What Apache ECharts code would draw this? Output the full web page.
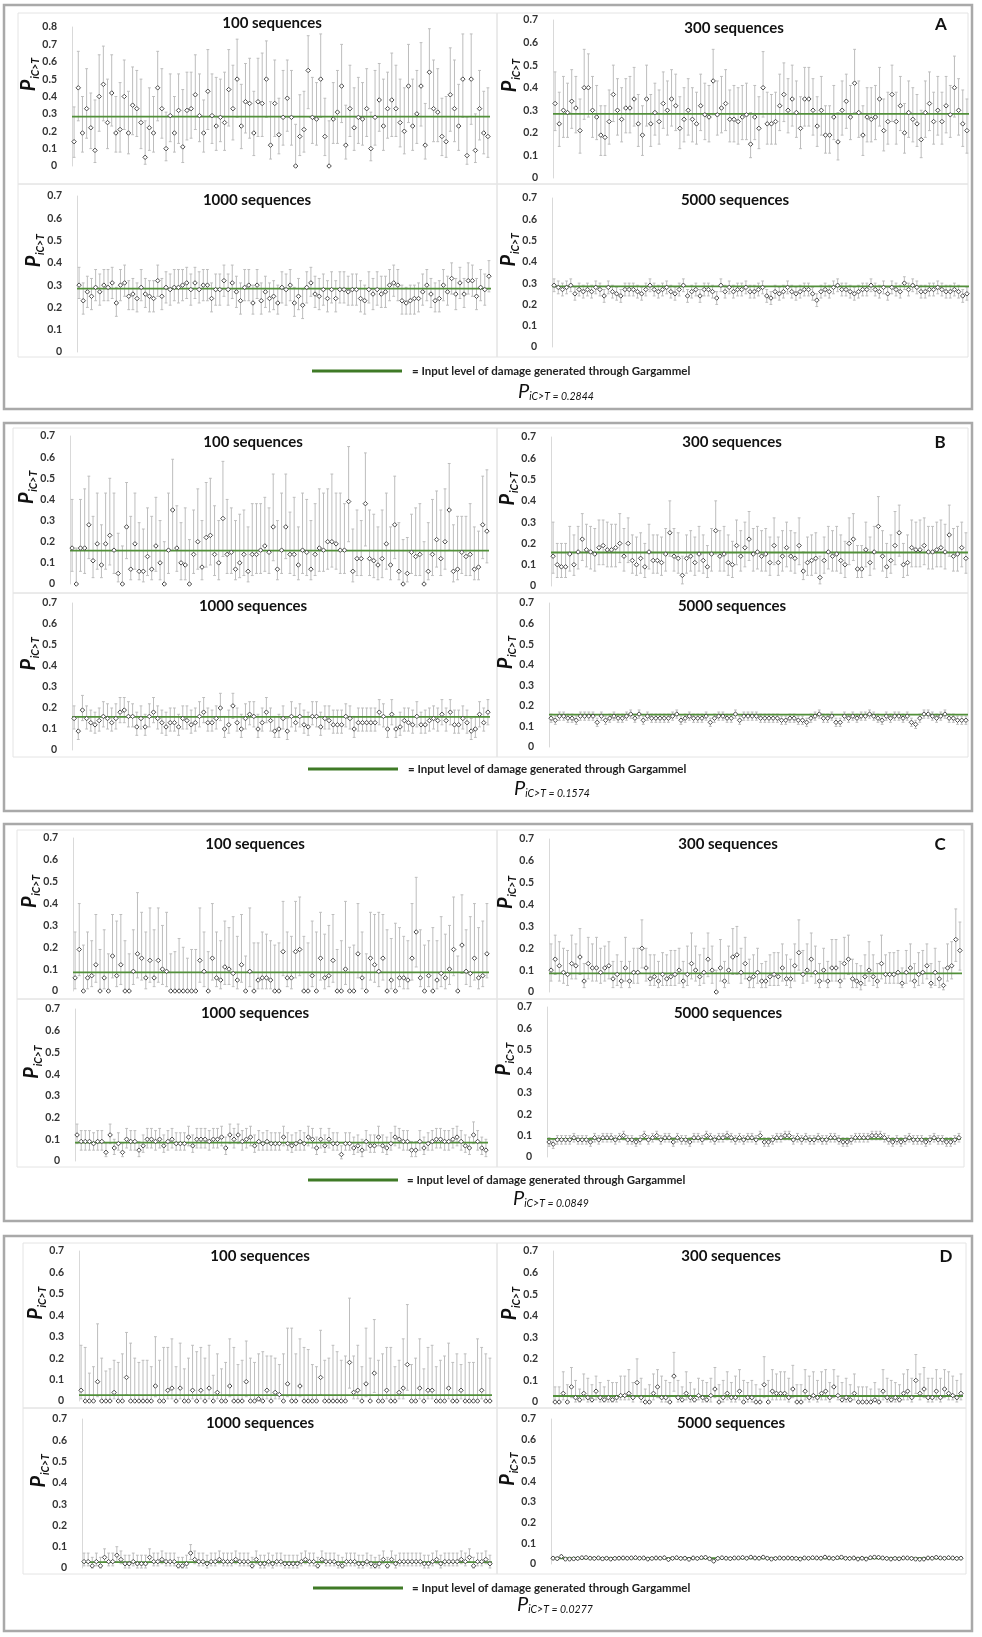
<!DOCTYPE html>
<html><head><meta charset="utf-8">
<script src="https://cdn.jsdelivr.net/npm/echarts@6/dist/echarts.min.js"></script>
<style>html,body{margin:0;padding:0;background:#fff}#c{width:982px;height:1637px}</style>
</head><body><div id="c"></div>
<script>
// ---------------- DATA (P iC>T per replicate: mean, lower and upper error bar) ----------------
const inputLevels = [0.2844, 0.1574, 0.0849, 0.0277];
const panelLetters = ['A', 'B', 'C', 'D'];
const seqLabels = ['100 sequences', '300 sequences', '1000 sequences', '5000 sequences'];
const legendText = '= Input level of damage generated through Gargammel';
const yMaxTicks = [[0.8, 0.7, 0.7, 0.7], [0.7, 0.7, 0.7, 0.7], [0.7, 0.7, 0.7, 0.7], [0.7, 0.7, 0.7, 0.7]];

const A100_mean = [.14,.45,.19,.33,.22,.09,.40,.47,.25,.42, .19,.21,.40,.19,.35,.33,.25,.05,.22,.19, .45,.33,.10,.29,.19,.32,.11,.32,.33,.41, .29,.19,.43,.29,.23,.28,.25,.44,.33,.50, .23,.37,.36,.19,.37,.36,.50,.12,.36,.18, .28,.39,.28,0,.17,.21,.55,.28,.27,.50, .17,0,.27,.31,.46,.12,.33,.22,.28,.27, .33,.10,.28,.38,.23,.33,.38,.33,.25,.20, .46,.23,.30,.46,.12,.54,.33,.31,.17,.14, .41,.33,.23,.50,.06,.50,.09,.33,.19,.17];
const A100_low = [.05,.26,.08,.16,.10,.02,.20,.26,.10,.23, .08,.08,.21,.07,.18,.17,.10,.01,.09,.08, .26,.16,.03,.14,.08,.13,.02,.15,.16,.21, .14,.08,.21,.13,.09,.14,.09,.23,.15,.28, .10,.19,.16,.06,.17,.17,.28,.04,.17,.07, .12,.20,.12,0,.06,.08,.33,.13,.12,.28, .06,0,.13,.13,.25,.04,.17,.09,.13,.12, .17,.03,.12,.20,.09,.16,.17,.17,.11,.07, .25,.09,.13,.23,.04,.33,.14,.14,.06,.05, .20,.14,.09,.28,.01,.24,.02,.15,.07,.05];
const A100_high = [.34,.66,.40,.56,.42,.38,.64,.69,.50,.64, .40,.48,.61,.43,.57,.55,.50,.26,.45,.40, .66,.56,.31,.53,.40,.53,.44,.54,.54,.64, .53,.38,.67,.53,.51,.50,.54,.67,.58,.73, .47,.59,.62,.43,.62,.65,.72,.37,.61,.39, .55,.61,.55,.24,.41,.43,.75,.51,.48,.76, .39,.26,.48,.55,.70,.35,.58,.45,.51,.48, .56,.31,.55,.59,.50,.54,.65,.58,.50,.45, .70,.50,.55,.71,.36,.79,.61,.56,.39,.40, .68,.61,.47,.76,.28,.76,.30,.55,.43,.45];

const A300_mean = [.33,.24,.30,.29,.34,.31,.21,.40,.40,.30, .27,.19,.18,.25,.37,.30,.26,.31,.31,.35, .24,.19,.35,.24,.29,.25,.33,.30,.35,.32, .22,.26,.30,.26,.24,.32,.28,.27,.43,.28, .31,.33,.26,.26,.25,.27,.28,.15,.27,.22, .40,.24,.24,.25,.32,.37,.30,.35,.29,.22, .35,.35,.30,.23,.30,.19,.19,.27,.16,.30, .34,.27,.42,.29,.19,.27,.26,.27,.35,.21, .25,.37,.25,.32,.20,.29,.26,.24,.17,.29, .33,.25,.30,.25,.32,.28,.40,.30,.24,.21];
const A300_low = [.21,.14,.18,.18,.22,.20,.11,.26,.27,.18, .17,.10,.10,.15,.25,.19,.16,.20,.20,.23, .14,.10,.23,.14,.19,.15,.22,.19,.23,.21, .13,.16,.19,.16,.15,.21,.17,.16,.28,.19, .20,.21,.16,.16,.15,.17,.17,.09,.17,.13, .27,.15,.15,.15,.21,.25,.20,.23,.18,.13, .23,.23,.19,.14,.19,.11,.11,.17,.08,.19, .22,.17,.29,.18,.10,.16,.16,.17,.23,.12, .15,.25,.15,.21,.11,.18,.16,.14,.09,.18, .21,.15,.19,.15,.20,.18,.27,.19,.14,.11];
const A300_high = [.47,.38,.45,.42,.48,.45,.35,.57,.55,.45, .41,.32,.32,.39,.50,.44,.40,.44,.45,.49, .37,.32,.50,.37,.42,.39,.47,.43,.48,.46, .36,.40,.44,.40,.38,.46,.42,.41,.57,.43, .45,.48,.39,.41,.40,.41,.42,.29,.41,.36, .56,.38,.37,.38,.46,.51,.44,.50,.43,.36, .49,.49,.44,.36,.45,.32,.32,.41,.29,.43, .46,.41,.57,.43,.32,.40,.40,.41,.49,.35, .38,.50,.38,.45,.33,.43,.40,.37,.30,.43, .47,.38,.45,.38,.45,.41,.54,.44,.39,.35];

const A1000_mean = [.30,.23,.27,.25,.29,.27,.30,.29,.31,.22, .30,.31,.25,.26,.24,.29,.26,.25,.24,.32, .25,.29,.28,.29,.29,.30,.31,.28,.31,.28, .30,.30,.24,.28,.28,.32,.28,.31,.27,.23, .29,.30,.22,.30,.23,.27,.24,.25,.22,.29, .28,.30,.22,.25,.21,.29,.31,.26,.25,.28, .24,.28,.24,.28,.28,.27,.28,.28,.24,.23, .28,.26,.28,.26,.27,.30,.31,.30,.23,.22, .23,.24,.24,.27,.30,.26,.23,.24,.30,.27, .33,.26,.31,.26,.32,.32,.25,.29,.28,.34];
const A1000_low = [.24,.17,.20,.19,.23,.21,.23,.23,.24,.16, .23,.25,.19,.19,.18,.23,.20,.18,.18,.25, .19,.22,.21,.23,.22,.23,.24,.21,.24,.22, .23,.23,.18,.21,.21,.25,.21,.24,.20,.17, .23,.23,.17,.24,.17,.20,.18,.19,.17,.22, .21,.23,.16,.19,.15,.22,.25,.20,.19,.21, .18,.22,.18,.22,.22,.21,.21,.21,.18,.17, .22,.19,.21,.20,.20,.23,.25,.23,.17,.17, .17,.17,.18,.21,.23,.20,.18,.18,.23,.21, .26,.19,.24,.20,.26,.25,.19,.23,.21,.27];
const A1000_high = [.38,.31,.34,.33,.37,.35,.37,.37,.38,.29, .37,.39,.32,.33,.31,.37,.33,.32,.32,.39, .33,.36,.35,.37,.37,.37,.38,.35,.38,.36, .37,.37,.31,.35,.35,.39,.35,.39,.34,.31, .37,.37,.30,.37,.31,.34,.31,.32,.30,.36, .35,.37,.29,.33,.28,.36,.38,.34,.33,.35, .32,.36,.32,.36,.36,.34,.35,.35,.32,.30, .36,.33,.36,.34,.34,.37,.39,.37,.30,.29, .30,.30,.31,.35,.37,.33,.31,.32,.37,.34, .40,.33,.38,.33,.40,.39,.33,.37,.35,.41];

const A5000_mean = [.29,.28,.27,.28,.29,.25,.27,.26,.27,.26, .28,.27,.24,.28,.26,.25,.24,.27,.27,.27, .26,.25,.27,.29,.27,.26,.27,.28,.26,.25, .27,.29,.24,.26,.27,.24,.27,.27,.26,.23, .29,.26,.28,.26,.27,.27,.28,.26,.26,.27, .28,.24,.23,.26,.25,.26,.28,.26,.25,.26, .27,.27,.25,.22,.26,.27,.26,.28,.29,.27, .27,.26,.25,.26,.27,.27,.29,.27,.26,.28, .25,.28,.27,.26,.30,.27,.29,.28,.26,.26, .27,.27,.28,.27,.26,.26,.27,.26,.24,.25];
const A5000_low = [.26,.25,.24,.25,.26,.22,.24,.23,.24,.23, .25,.24,.21,.25,.23,.22,.21,.24,.24,.24, .23,.22,.24,.26,.24,.23,.24,.25,.23,.22, .24,.26,.21,.23,.24,.21,.24,.24,.23,.20, .26,.23,.25,.23,.24,.24,.25,.23,.23,.24, .25,.21,.20,.23,.22,.23,.25,.23,.22,.23, .24,.24,.22,.19,.23,.24,.23,.25,.26,.24, .24,.23,.22,.23,.24,.24,.26,.24,.23,.25, .22,.25,.24,.23,.27,.24,.26,.25,.23,.23, .24,.24,.25,.24,.23,.23,.24,.23,.21,.22];
const A5000_high = [.32,.31,.30,.31,.32,.28,.30,.29,.30,.29, .31,.30,.27,.31,.29,.28,.27,.30,.30,.30, .29,.28,.30,.32,.30,.29,.30,.31,.29,.28, .30,.32,.27,.29,.30,.27,.30,.30,.29,.26, .32,.29,.31,.29,.30,.30,.31,.29,.29,.30, .31,.27,.26,.29,.28,.29,.31,.29,.28,.29, .30,.30,.28,.25,.29,.30,.29,.31,.32,.30, .30,.29,.28,.29,.30,.30,.32,.30,.29,.31, .28,.31,.30,.29,.33,.30,.32,.31,.29,.29, .30,.30,.31,.30,.29,.29,.30,.29,.27,.28];

const B100_mean = [.17,0,.17,.17,.28,.11,.19,.09,.19,.23, .16,.05,0,.27,.07,.19,.06,.06,.13,.07, .18,.10,0,.16,.35,.17,.10,.09,0,.14, .20,.08,.22,.23,.14,.10,.31,.14,.15,.07, .10,.14,.06,.14,.14,.16,.18,.15,.27,.07, .16,.27,.14,.14,.09,.16,.15,.07,.14,.17, .16,.20,.20,.19,.16,.16,.39,.06,.12,.12, .38,.12,.11,.09,.12,.19,.09,.28,.06,0, .05,.15,.13,.14,0,.06,.14,.21,.12,.20, .35,.06,.07,.15,.13,.14,.07,.08,.28,.25];
const B100_low = [.06,0,.06,.05,.12,.03,.07,.03,.07,.09, .05,.01,0,.12,.02,.07,.02,.01,.04,.02, .06,.02,0,.05,.16,.06,.02,.02,0,.05, .07,.02,.08,.09,.04,.02,.13,.05,.05,.02, .03,.04,.01,.04,.05,.05,.06,.05,.11,.02, .05,.12,.05,.04,.02,.05,.04,.02,.04,.06, .06,.07,.08,.07,.05,.05,.20,.01,.04,.04, .18,.04,.03,.02,.03,.07,.02,.12,.02,0, .01,.05,.04,.04,0,.02,.04,.08,.04,.07, .16,.01,.02,.05,.04,.04,.02,.02,.12,.10];
const B100_high = [.40,.17,.40,.45,.51,.32,.43,.28,.43,.50, .43,.24,.18,.48,.32,.43,.29,.26,.36,.32, .41,.30,.20,.43,.59,.37,.29,.36,.21,.35, .45,.30,.48,.50,.37,.30,.58,.40,.36,.30, .33,.35,.27,.38,.38,.38,.41,.36,.52,.30, .43,.52,.34,.41,.27,.43,.40,.30,.38,.45, .43,.45,.52,.43,.43,.38,.65,.26,.35,.30, .62,.35,.33,.27,.35,.43,.27,.51,.29,.21, .22,.33,.36,.38,.20,.29,.40,.44,.35,.45, .57,.28,.32,.32,.32,.38,.27,.25,.51,.54];

const B300_mean = [.14,.10,.09,.09,.15,.10,.16,.22,.17,.16, .15,.18,.19,.17,.17,.18,.20,.14,.20,.12, .10,.13,.09,.16,.12,.12,.11,.15,.25,.14, .13,.05,.13,.14,.11,.15,.12,.09,.15,.26, .14,.15,.11,.10,.19,.14,.18,.22,.15,.16, .14,.15,.11,.19,.11,.14,.18,.14,.13,.19, .07,.11,.12,.13,.04,.12,.16,.14,.15,.12, .10,.20,.22,.08,.08,.17,.11,.16,.28,.14, .09,.12,.19,.25,.10,.11,.18,.17,.17,.19, .16,.16,.17,.18,.16,.24,.14,.15,.18,.13];
const B300_low = [.06,.04,.04,.04,.07,.05,.08,.12,.09,.08, .07,.10,.10,.09,.09,.09,.11,.07,.11,.06, .05,.06,.04,.08,.06,.06,.05,.07,.14,.07, .06,.01,.06,.07,.05,.07,.06,.04,.07,.15, .07,.07,.05,.04,.10,.07,.09,.12,.07,.08, .07,.07,.05,.10,.05,.07,.09,.07,.06,.10, .03,.05,.05,.06,.01,.06,.08,.07,.07,.06, .04,.10,.12,.04,.04,.09,.05,.08,.16,.07, .04,.06,.10,.14,.04,.05,.09,.09,.09,.10, .08,.08,.09,.09,.08,.14,.07,.07,.09,.06];
const B300_high = [.30,.20,.20,.20,.28,.24,.28,.34,.29,.28, .27,.31,.31,.30,.29,.29,.34,.27,.32,.24, .23,.25,.20,.29,.24,.24,.23,.27,.40,.27, .25,.14,.24,.26,.23,.28,.24,.19,.27,.40, .26,.28,.24,.21,.31,.26,.30,.35,.27,.28, .26,.27,.23,.32,.23,.26,.30,.26,.25,.32, .16,.23,.24,.25,.14,.23,.28,.26,.28,.24, .21,.32,.34,.19,.19,.30,.23,.28,.42,.26, .20,.24,.35,.38,.20,.24,.31,.30,.31,.32, .28,.28,.30,.31,.29,.38,.27,.28,.30,.25];

const B1000_mean = [.15,.09,.19,.15,.13,.12,.14,.16,.15,.13, .15,.18,.19,.16,.16,.11,.15,.11,.16,.18, .15,.13,.11,.13,.13,.11,.15,.14,.12,.13, .16,.18,.13,.13,.15,.20,.10,.12,.21,.13, .10,.15,.17,.16,.10,.13,.18,.14,.09,.10, .15,.09,.16,.13,.16,.12,.11,.16,.16,.11, .15,.14,.12,.12,.12,.16,.15,.10,.13,.13, .13,.13,.13,.18,.16,.10,.17,.10,.11,.14, .13,.12,.16,.12,.12,.14,.15,.14,.17,.14, .18,.12,.12,.15,.13,.09,.10,.17,.13,.18];
const B1000_low = [.10,.05,.14,.10,.09,.08,.09,.11,.10,.09, .10,.13,.13,.11,.11,.07,.10,.07,.11,.13, .10,.08,.07,.09,.09,.07,.10,.10,.08,.09, .11,.13,.09,.09,.10,.14,.06,.08,.15,.09, .06,.10,.12,.11,.06,.09,.13,.09,.06,.06, .10,.05,.11,.09,.11,.08,.07,.12,.11,.07, .10,.10,.08,.08,.08,.11,.10,.06,.09,.09, .09,.09,.09,.12,.11,.06,.12,.06,.07,.09, .09,.08,.11,.08,.08,.09,.10,.09,.12,.09, .12,.08,.08,.10,.08,.05,.06,.11,.09,.12];
const B1000_high = [.21,.16,.26,.21,.19,.18,.20,.23,.22,.20, .22,.25,.25,.23,.22,.18,.21,.17,.22,.25, .21,.19,.18,.20,.20,.17,.21,.21,.19,.20, .23,.25,.20,.19,.21,.27,.16,.19,.27,.20, .17,.22,.23,.23,.17,.20,.25,.20,.16,.17, .21,.15,.23,.20,.22,.19,.18,.23,.23,.18, .21,.21,.19,.19,.19,.22,.21,.16,.20,.20, .20,.20,.20,.24,.22,.16,.24,.16,.18,.20, .20,.19,.23,.18,.19,.20,.21,.20,.24,.20, .24,.19,.19,.21,.19,.15,.16,.23,.20,.24];

const B5000_mean = [.14,.13,.15,.15,.14,.14,.13,.15,.15,.15, .15,.12,.15,.13,.14,.15,.14,.14,.15,.16, .14,.16,.13,.15,.14,.14,.14,.14,.14,.15, .16,.13,.14,.15,.14,.14,.14,.15,.12,.14, .15,.15,.14,.14,.16,.13,.15,.15,.15,.15, .14,.14,.14,.14,.14,.13,.13,.14,.14,.13, .13,.12,.14,.15,.16,.14,.14,.15,.12,.12, .15,.14,.15,.14,.15,.15,.16,.15,.14,.13, .15,.14,.15,.15,.14,.15,.12,.11,.14,.16, .16,.15,.14,.15,.16,.14,.14,.13,.13,.13];
const B5000_low = [.12,.11,.13,.13,.12,.12,.11,.13,.13,.13, .13,.10,.13,.11,.12,.13,.12,.12,.13,.14, .12,.14,.11,.13,.12,.12,.12,.12,.12,.13, .14,.11,.12,.13,.12,.12,.12,.13,.10,.12, .13,.13,.12,.12,.14,.11,.13,.13,.13,.13, .12,.12,.12,.12,.12,.11,.11,.12,.12,.11, .11,.10,.12,.13,.14,.12,.12,.13,.10,.10, .13,.12,.13,.12,.13,.13,.14,.13,.12,.11, .13,.12,.13,.13,.12,.13,.10,.09,.12,.14, .14,.13,.12,.13,.14,.12,.12,.11,.11,.11];
const B5000_high = [.16,.15,.17,.17,.16,.16,.15,.17,.17,.17, .17,.14,.17,.15,.16,.17,.16,.16,.17,.18, .16,.18,.15,.17,.16,.16,.16,.16,.16,.17, .18,.15,.16,.17,.16,.16,.16,.17,.14,.16, .17,.17,.16,.16,.18,.15,.17,.17,.17,.17, .16,.16,.16,.16,.16,.15,.15,.16,.16,.15, .15,.14,.16,.17,.18,.16,.16,.17,.14,.14, .17,.16,.17,.16,.17,.17,.18,.17,.16,.15, .17,.16,.17,.17,.16,.17,.14,.13,.16,.18, .18,.17,.16,.17,.18,.16,.16,.15,.15,.15];

const C100_mean = [.06,.19,0,.06,.07,.12,0,.06,0,.16, .07,.12,0,0,.09,.17,.15,.06,.14,.06, .14,.10,.09,0,0,0,0,0,0,0, .14,.09,0,.15,.06,.05,.11,.10,.08,.05, .12,0,.09,0,.05,.06,.06,.05,0,0, .18,.06,.06,.18,.19,0,0,.07,0,.15, .06,.07,.14,0,0,.10,0,0,.17,.06, 0,.15,.12,.09,.15,0,.05,0,.06,.06, .05,.15,.27,.06,0,.07,0,.05,.08,.06, .10,.19,0,.21,.09,.08,.15,.06,.07,.17];
const C100_low = [.01,.07,0,.01,.02,.04,0,.01,0,.06, .02,.03,0,0,.03,.06,.05,.01,.04,.02, .04,.03,.02,0,0,0,0,0,0,0, .04,.02,0,.05,.02,.01,.03,.03,.02,.01, .04,0,.02,0,.01,.01,.01,.01,0,0, .07,.02,.01,.06,.07,0,0,.02,0,.05, .01,.02,.04,0,0,.03,0,0,.06,.01, 0,.05,.04,.02,.05,0,.01,0,.02,.01, .01,.05,.11,.02,0,.02,0,.01,.02,.01, .03,.07,0,.08,.03,.02,.05,.01,.02,.06];
const C100_high = [.27,.40,.21,.27,.23,.35,.19,.28,.17,.35, .32,.35,.23,.17,.28,.45,.36,.27,.38,.28, .38,.30,.36,.17,.18,.24,.20,.15,.19,.19, .38,.27,.18,.40,.27,.23,.32,.29,.34,.25, .35,.16,.38,.22,.22,.27,.26,.23,.21,.22, .41,.27,.25,.41,.43,.25,.22,.32,.27,.36, .26,.30,.35,.19,.23,.41,.20,.21,.40,.27, .17,.36,.35,.36,.35,.28,.24,.31,.29,.25, .23,.40,.52,.28,.21,.23,.29,.23,.34,.26, .30,.43,.16,.44,.28,.34,.40,.29,.32,.40];

const C300_mean = [.10,.15,.12,.09,.08,.13,.12,.16,.05,.13, .11,.11,.09,.11,.12,.06,.08,.05,.11,.05, .09,.09,.20,.11,.06,.07,.05,.08,.06,.07, .08,.10,.05,.08,.13,.10,.07,.09,.15,.10, 0,.11,.05,.10,.16,.17,.09,.13,.06,.07, .09,.05,.05,.07,.08,.07,.11,.06,.06,.12, .18,.08,.10,.15,.09,.05,.10,.05,.11,.11, .05,.13,.15,.06,.05,.04,.07,.10,.07,.05, .13,.08,.08,.08,.09,.04,.09,.11,.05,.08, .09,.12,.04,.09,.06,.03,.11,.12,.24,.19];
const C300_low = [.05,.08,.05,.04,.03,.06,.06,.08,.02,.06, .05,.05,.04,.05,.06,.02,.03,.02,.05,.02, .04,.04,.11,.05,.03,.03,.02,.03,.03,.03, .03,.04,.02,.03,.06,.05,.03,.04,.07,.04, 0,.05,.02,.04,.08,.08,.04,.06,.02,.02, .04,.02,.02,.03,.03,.03,.05,.03,.02,.05, .10,.04,.05,.07,.04,.02,.05,.02,.05,.05, .02,.06,.08,.02,.02,.01,.03,.05,.03,.02, .06,.04,.04,.04,.04,.02,.04,.05,.02,.03, .04,.06,.02,.03,.02,.01,.05,.06,.14,.10];
const C300_high = [.22,.26,.23,.20,.19,.26,.22,.29,.13,.25, .22,.25,.20,.21,.23,.14,.17,.14,.25,.14, .20,.20,.33,.20,.17,.17,.14,.18,.17,.19, .19,.20,.14,.21,.27,.21,.17,.20,.27,.21, .10,.24,.14,.21,.29,.30,.20,.25,.15,.17, .20,.13,.14,.17,.18,.18,.22,.17,.15,.22, .33,.19,.22,.27,.21,.13,.20,.14,.24,.24, .14,.25,.26,.15,.13,.12,.17,.23,.17,.13, .26,.17,.18,.18,.19,.11,.19,.22,.13,.18, .19,.22,.13,.20,.14,.11,.22,.23,.38,.32];

const C1000_mean = [.12,.09,.09,.09,.08,.09,.09,.04,.12,.06, .08,.04,.10,.09,.09,.05,.07,.10,.10,.09, .10,.07,.09,.10,.08,.08,.08,.11,.07,.10, .10,.10,.09,.10,.10,.11,.06,.12,.10,.12, .09,.10,.11,.07,.09,.08,.09,.08,.08,.08, .11,.08,.07,.08,.09,.08,.11,.10,.06,.10, .07,.10,.08,.08,.03,.08,.08,.06,.07,.05, .09,.07,.07,.11,.07,.06,.08,.11,.10,.09, .09,.05,.05,.09,.06,.08,.09,.10,.10,.09, .09,.10,.11,.09,.07,.06,.12,.09,.06,.05];
const C1000_low = [.08,.05,.05,.05,.05,.05,.05,.02,.08,.03, .05,.02,.06,.05,.05,.02,.04,.06,.06,.05, .06,.04,.05,.06,.05,.05,.05,.07,.04,.06, .06,.06,.05,.06,.06,.07,.03,.08,.06,.08, .05,.06,.07,.04,.05,.05,.05,.05,.05,.05, .07,.05,.04,.05,.05,.05,.07,.06,.03,.06, .04,.06,.05,.05,.01,.05,.05,.03,.04,.02, .05,.04,.04,.07,.04,.03,.05,.07,.06,.05, .05,.02,.02,.05,.03,.05,.05,.06,.06,.05, .05,.06,.07,.05,.04,.03,.08,.05,.03,.02];
const C1000_high = [.17,.14,.14,.14,.13,.14,.14,.08,.17,.10, .13,.08,.15,.14,.14,.09,.12,.15,.15,.14, .15,.12,.14,.15,.13,.13,.13,.16,.12,.15, .15,.15,.14,.15,.15,.16,.11,.17,.15,.17, .14,.15,.16,.12,.14,.13,.14,.13,.13,.13, .16,.13,.12,.13,.14,.13,.16,.15,.11,.15, .12,.15,.13,.13,.07,.13,.13,.11,.12,.10, .14,.12,.12,.16,.12,.11,.13,.16,.15,.14, .14,.09,.09,.14,.11,.13,.14,.15,.15,.14, .14,.15,.16,.14,.12,.11,.18,.14,.11,.10];

const C5000_mean = [.07,.06,.08,.08,.08,.08,.09,.08,.08,.08, .07,.09,.08,.09,.09,.09,.08,.09,.10,.08, .08,.07,.08,.10,.08,.09,.10,.08,.09,.09, .07,.09,.08,.08,.07,.09,.09,.08,.10,.09, .08,.09,.09,.10,.09,.08,.09,.08,.09,.09, .08,.10,.07,.07,.08,.09,.09,.10,.10,.08, .09,.08,.09,.08,.08,.09,.08,.08,.09,.09, .08,.07,.07,.08,.09,.09,.09,.09,.10,.10, .10,.09,.08,.07,.08,.07,.08,.09,.08,.08, .08,.07,.08,.09,.08,.08,.07,.07,.08,.09];
const C5000_low = [.05,.04,.06,.06,.06,.06,.07,.06,.06,.06, .05,.07,.06,.07,.07,.07,.06,.07,.08,.06, .06,.05,.06,.08,.06,.07,.08,.06,.07,.07, .05,.07,.06,.06,.05,.07,.07,.06,.08,.07, .06,.07,.07,.08,.07,.06,.07,.06,.07,.07, .06,.08,.05,.05,.06,.07,.07,.08,.08,.06, .07,.06,.07,.06,.06,.07,.06,.06,.07,.07, .06,.05,.05,.06,.07,.07,.07,.07,.08,.08, .08,.07,.06,.05,.06,.05,.06,.07,.06,.06, .06,.05,.06,.07,.06,.06,.05,.05,.06,.07];
const C5000_high = [.09,.08,.10,.10,.10,.10,.11,.10,.10,.10, .09,.11,.10,.11,.11,.11,.10,.11,.12,.10, .10,.09,.10,.12,.10,.11,.12,.10,.11,.11, .09,.11,.10,.10,.09,.11,.11,.10,.12,.11, .10,.11,.11,.12,.11,.10,.11,.10,.11,.11, .10,.12,.09,.09,.10,.11,.11,.12,.12,.10, .11,.10,.11,.10,.10,.11,.10,.10,.11,.11, .10,.09,.09,.10,.11,.11,.11,.11,.12,.12, .12,.11,.10,.09,.10,.09,.10,.11,.10,.10, .10,.09,.10,.11,.10,.10,.09,.09,.10,.11];

const D100_mean = [.05,0,0,0,.09,0,0,0,.04,0, 0,.11,0,0,0,0,0,0,.07,0, 0,.05,.06,0,.06,0,0,.05,0,.05, 0,.06,0,.04,0,0,.07,0,0,0, .09,0,0,.01,0,.05,0,.04,.03,0, .08,0,0,.07,0,0,0,0,.11,0, 0,0,0,0,0,.18,.04,.05,0,.08, 0,.13,0,0,.05,0,0,.04,.06,.17, 0,0,.06,0,.05,.05,0,0,0,.06, 0,0,.05,0,0,0,0,.05,0,0];
const D100_low = [.01,0,0,0,.02,0,0,0,.01,0, 0,.03,0,0,0,0,0,0,.02,0, 0,.01,.01,0,.01,0,0,.01,0,.01, 0,.01,0,.01,0,0,.02,0,0,0, .02,0,0,0,0,.01,0,.01,.01,0, .02,0,0,.02,0,0,0,0,.03,0, 0,0,0,0,0,.06,.01,.01,0,.02, 0,.04,0,0,.01,0,0,.01,.01,.05, 0,0,.01,0,.01,.01,0,0,0,.01, 0,0,.01,0,0,0,0,.01,0,0];
const D100_high = [.26,.25,.13,.16,.36,.20,.14,.15,.19,.18, .22,.32,.27,.20,.18,.19,.19,.16,.30,.19, .25,.25,.29,.16,.27,.15,.20,.26,.23,.25, .20,.26,.12,.22,.15,.18,.29,.25,.17,.19, .28,.20,.18,.22,.23,.21,.21,.20,.17,.22, .34,.34,.22,.29,.25,.24,.17,.16,.33,.19, .20,.26,.23,.19,.21,.48,.21,.26,.16,.34, .20,.38,.19,.22,.25,.25,.16,.19,.29,.45, .17,.20,.29,.15,.25,.26,.16,.19,.21,.27, .18,.22,.17,.22,.18,.18,.29,.25,.22,.20];

const D300_mean = [0,0,.04,0,.07,.02,.01,.04,.02,.01, .05,.02,.01,.02,.01,.02,.03,.03,.04,.02, .09,.02,0,0,.04,.07,.02,.02,0,.12, .02,.01,.04,.02,.01,.03,.02,.01,.03,.06, 0,.02,.04,.02,.02,.05,0,.02,.02,0, 0,.08,0,.05,.04,.04,.04,.02,.06,0, 0,.05,.02,.03,.02,.04,.05,.02,.07,.03, .01,.02,.01,.04,0,0,0,0,.01,0, .05,.02,.01,.02,.01,.04,.05,.02,.10,.04, .06,.02,.02,.05,.02,.06,.04,.03,.02,.04];
const D300_low = [0,0,.01,0,.02,0,0,.01,0,0, .01,0,0,0,0,0,.01,.01,.01,0, .03,0,0,0,.01,.02,0,0,0,.05, 0,0,.01,0,0,.01,0,0,0,.02, 0,0,.01,0,0,.01,0,0,0,0, 0,.02,0,.01,.01,.01,.01,0,.02,0, 0,.01,0,.01,0,.01,.01,0,.02,.01, 0,0,0,.01,0,0,0,0,0,0, .01,0,0,0,0,.01,.01,0,.04,.01, .02,0,0,.01,0,.02,.01,.01,0,.01];
const D300_high = [.07,.07,.14,.08,.16,.10,.06,.13,.11,.08, .12,.09,.07,.10,.09,.09,.12,.12,.15,.09, .20,.11,.06,.08,.13,.15,.12,.10,.09,.23, .10,.07,.14,.09,.06,.11,.10,.09,.11,.16, .08,.10,.14,.09,.12,.15,.10,.09,.10,.08, .06,.21,.10,.15,.13,.14,.14,.11,.17,.08, .08,.15,.12,.14,.10,.14,.15,.09,.15,.12, .09,.11,.08,.13,.07,.07,.07,.06,.09,.06, .15,.11,.10,.09,.08,.13,.15,.11,.22,.13, .16,.11,.11,.15,.11,.15,.14,.12,.10,.13];

const D1000_mean = [.03,.03,.01,.03,.01,.05,.03,.03,.06,.04, .02,.02,.03,.02,.02,.02,.05,.03,.03,.04, .03,.03,.03,.01,.01,.02,.07,.04,.03,.03, .02,.03,.03,.04,.03,.03,.03,.04,.03,.03, .03,.01,.04,.02,.02,.03,.02,.03,.03,.02, .02,.02,.02,.03,.04,.03,.03,.01,.04,.03, .03,.03,.02,.01,.03,.03,.03,.02,.02,.03, .02,.01,.02,.04,.01,.04,.02,.03,.03,.03, .03,.03,.03,.02,.02,.03,.04,.02,.03,.03, .03,.03,.04,.03,.05,.01,.03,.03,.04,.02];
const D1000_low = [.01,.01,0,.01,0,.03,.01,.01,.03,.02, 0,0,.01,0,0,0,.03,.01,.01,.02, .01,.01,.01,0,0,0,.04,.02,.01,.01, 0,.01,.01,.02,.01,.01,.01,.02,.01,.01, .01,0,.02,0,0,.01,0,.01,.01,0, 0,0,0,.01,.02,.01,.01,0,.02,.01, .01,.01,0,0,.01,.01,.01,0,0,.01, 0,0,0,.02,0,.02,0,.01,.01,.01, .01,.01,.01,0,0,.01,.02,0,.01,.01, .01,.01,.02,.01,.03,0,.01,.01,.02,0];
const D1000_high = [.07,.07,.05,.07,.05,.09,.07,.07,.10,.08, .06,.06,.07,.06,.06,.06,.09,.07,.07,.08, .07,.07,.07,.05,.05,.06,.11,.08,.07,.07, .06,.07,.07,.08,.07,.07,.07,.08,.07,.07, .07,.05,.08,.06,.06,.07,.06,.07,.07,.06, .06,.06,.06,.07,.08,.07,.07,.05,.08,.07, .07,.07,.06,.05,.07,.07,.07,.06,.06,.07, .06,.05,.06,.08,.05,.08,.06,.07,.07,.07, .07,.07,.07,.06,.06,.07,.08,.06,.07,.07, .07,.07,.08,.07,.09,.05,.07,.07,.08,.06];

const D5000_mean = [.028,.026,.036,.024,.024,.025,.027,.030,.031,.028, .027,.029,.025,.028,.024,.027,.028,.029,.028,.029, .030,.028,.029,.024,.027,.029,.028,.030,.022,.028, .030,.027,.028,.023,.029,.027,.030,.032,.025,.014, .027,.030,.028,.026,.029,.029,.031,.028,.033,.029, .028,.033,.028,.024,.027,.029,.028,.029,.028,.027, .024,.029,.028,.030,.029,.028,.033,.029,.027,.030, .033,.028,.027,.029,.024,.028,.024,.030,.033,.032, .029,.027,.024,.027,.025,.029,.029,.027,.024,.023, .024,.029,.028,.032,.029,.028,.030,.029,.027,.028];
const D5000_low = [.020,.018,.028,.016,.016,.017,.019,.022,.023,.020, .019,.021,.017,.020,.016,.019,.020,.021,.020,.021, .022,.020,.021,.016,.019,.021,.020,.022,.014,.020, .022,.019,.020,.015,.021,.019,.022,.024,.017,.007, .019,.022,.020,.018,.021,.021,.023,.020,.025,.021, .020,.025,.020,.016,.019,.021,.020,.021,.020,.019, .016,.021,.020,.022,.021,.020,.025,.021,.019,.022, .025,.020,.019,.021,.016,.020,.016,.022,.025,.024, .021,.019,.016,.019,.017,.021,.021,.019,.016,.015, .016,.021,.020,.024,.021,.020,.022,.021,.019,.020];
const D5000_high = [.036,.034,.044,.032,.032,.033,.035,.038,.039,.036, .035,.037,.033,.036,.032,.035,.036,.037,.036,.037, .038,.036,.037,.032,.035,.037,.036,.038,.030,.036, .038,.035,.036,.031,.037,.035,.038,.040,.033,.022, .035,.038,.036,.034,.037,.037,.039,.036,.041,.037, .036,.041,.036,.032,.035,.037,.036,.037,.036,.035, .032,.037,.036,.038,.037,.036,.041,.037,.035,.038, .041,.036,.035,.037,.032,.036,.032,.038,.041,.040, .037,.035,.032,.035,.033,.037,.037,.035,.032,.031, .032,.037,.036,.040,.037,.036,.038,.037,.035,.036];

// ---------------- LAYOUT ----------------
const FONT = 'Lato, "Open Sans", sans-serif';
const panelData = [
  [[A100_mean, A100_low, A100_high], [A300_mean, A300_low, A300_high], [A1000_mean, A1000_low, A1000_high], [A5000_mean, A5000_low, A5000_high]],
  [[B100_mean, B100_low, B100_high], [B300_mean, B300_low, B300_high], [B1000_mean, B1000_low, B1000_high], [B5000_mean, B5000_low, B5000_high]],
  [[C100_mean, C100_low, C100_high], [C300_mean, C300_low, C300_high], [C1000_mean, C1000_low, C1000_high], [C5000_mean, C5000_low, C5000_high]],
  [[D100_mean, D100_low, D100_high], [D300_mean, D300_low, D300_high], [D1000_mean, D1000_low, D1000_high], [D5000_mean, D5000_low, D5000_high]]
];
// [left, top(max tick), width, height] per subplot, order 100, 300, 1000, 5000
const gridBoxes = [
  [[72, 27, 418, 139], [553, 20, 416, 158], [77, 196, 414, 156], [552, 198, 417, 149]],
  [[70, 436, 419, 148], [551, 437, 417, 149], [72, 603, 418, 147], [549, 603, 419, 144]],
  [[73, 838, 416, 153], [549, 839, 413, 153], [75, 1009, 413, 152], [547, 1007, 414, 150]],
  [[79, 1251, 413, 150], [553, 1251, 410, 151], [82, 1419, 410, 149], [551, 1419, 412, 145]]
];
const titlePos = [
  [[272, 23], [734, 28], [257, 200], [735, 200]],
  [[253, 442], [732, 442], [253, 606], [732, 606]],
  [[255, 844], [728, 844], [255, 1013], [728, 1013]],
  [[260, 1256], [731, 1256], [260, 1423], [731, 1423]]
];
const letterPos = [[941, 25], [940, 443], [940, 845], [946, 1257]];
const panelBox = [[4, 5, 968, 404], [4, 423, 968, 388], [4, 824, 968, 397], [4, 1236, 968, 395]];
const frameBox = [[18, 13, 184, 357, 968], [13, 428, 593, 757, 968], [17, 830, 999, 1167, 964], [23, 1243, 1408, 1574, 966]];
const divX = 497;
const legendPos = [[312, 402, 412, 371], [308, 398, 408, 769], [308, 398, 407, 1180], [313, 403, 412, 1588]];
const pTextPos = [[518, 402], [514, 799], [513, 1209], [517, 1615]];

const cats = Array.from({ length: 100 }, (_, i) => String(i + 1));

function errorBarItem(params, api) {
  const lo = api.coord([api.value(0), api.value(1)]);
  const hi = api.coord([api.value(0), api.value(2)]);
  const cw = 1.4;
  const style = { stroke: '#bdbdbd', lineWidth: 1 };
  return {
    type: 'group', children: [
      { type: 'line', shape: { x1: lo[0], y1: lo[1], x2: hi[0], y2: hi[1] }, style },
      { type: 'line', shape: { x1: lo[0] - cw, y1: lo[1], x2: lo[0] + cw, y2: lo[1] }, style },
      { type: 'line', shape: { x1: hi[0] - cw, y1: hi[1], x2: hi[0] + cw, y2: hi[1] }, style }
    ]
  };
}
function refLineItem(params, api) {
  const cs = params.coordSys;
  const y = api.coord([0, api.value(1)])[1];
  return { type: 'line', shape: { x1: cs.x, y1: y, x2: cs.x + cs.width, y2: y }, style: { stroke: '#52903a', lineWidth: 1.8 } };
}

const option = { animation: false, backgroundColor: '#ffffff', grid: [], xAxis: [], yAxis: [], series: [], graphic: { elements: [] } };
const G = option.graphic.elements;

panelData.forEach((panel, p) => {
  const pb = panelBox[p];
  G.push({ type: 'rect', z: -10, shape: { x: pb[0], y: pb[1], width: pb[2], height: pb[3] }, style: { fill: '#fff', stroke: '#a9a9a9', lineWidth: 2.5 } });
  const f = frameBox[p];
  [[f[0], f[1], divX, f[2]], [f[0], f[2], divX, f[3]], [divX, f[1], f[4], f[2]], [divX, f[2], f[4], f[3]]].forEach(r => {
    G.push({ type: 'rect', z: -9, shape: { x: r[0], y: r[1], width: r[2] - r[0], height: r[3] - r[1] }, style: { fill: 'none', stroke: '#e4e4e4', lineWidth: 1 } });
  });
  G.push({ type: 'text', x: letterPos[p][0], y: letterPos[p][1], style: { text: panelLetters[p], fontSize: 17, fontWeight: 'bold', fontFamily: FONT, fill: '#111', align: 'center', verticalAlign: 'middle' } });
  const lg = legendPos[p];
  G.push({ type: 'rect', shape: { x: lg[0], y: lg[3] - 1.5, width: lg[1] - lg[0], height: 3 }, style: { fill: '#3f7a26' } });
  G.push({ type: 'text', x: lg[2], y: lg[3], style: { text: legendText, fontSize: 11.5, fontWeight: 'bold', fontFamily: FONT, fill: '#222', align: 'left', verticalAlign: 'middle' } });
  G.push({ type: 'text', x: pTextPos[p][0], y: pTextPos[p][1], style: {
    text: '{p|P}{s|iC>T = ' + inputLevels[p].toFixed(4) + '}', align: 'left', verticalAlign: 'bottom',
    rich: { p: { fontSize: 20, fontStyle: 'italic', fontFamily: FONT, fill: '#111', verticalAlign: 'bottom', lineHeight: 22 },
            s: { fontSize: 10.5, fontStyle: 'italic', fontFamily: FONT, fill: '#111', verticalAlign: 'bottom', lineHeight: 18 } } } });

  panel.forEach((sub, s) => {
    const gi = p * 4 + s;
    const g = gridBoxes[p][s];
    const ymax = yMaxTicks[p][s];
    const [mean, low, high] = sub;
    option.grid.push({ left: g[0], top: g[1], width: g[2], height: g[3] });
    option.xAxis.push({ type: 'category', gridIndex: gi, data: cats, show: false, boundaryGap: true });
    option.yAxis.push({
      type: 'value', gridIndex: gi, min: 0, max: ymax, interval: 0.1,
      axisLine: { show: true, lineStyle: { color: '#d9d9d9', width: 1 } },
      axisTick: { show: false }, splitLine: { show: false },
      axisLabel: { fontSize: 10.5, fontWeight: 'bold', fontFamily: FONT, color: '#333', margin: 15 }
    });
    option.series.push({ type: 'custom', xAxisIndex: gi, yAxisIndex: gi, z: 1, silent: true,
      data: mean.map((_, i) => [i, low[i], high[i]]), encode: { x: 0, y: [1, 2] }, renderItem: errorBarItem });
    option.series.push({ type: 'custom', xAxisIndex: gi, yAxisIndex: gi, z: 2, silent: true,
      data: [[0, inputLevels[p]]], encode: { x: 0, y: 1 }, renderItem: refLineItem });
    option.series.push({ type: 'scatter', xAxisIndex: gi, yAxisIndex: gi, z: 3, silent: true, data: mean,
      symbol: 'diamond', symbolSize: 4.5, itemStyle: { color: '#ffffff', borderColor: '#4a4a4a', borderWidth: 1, opacity: 1 } });

    const tp = titlePos[p][s];
    G.push({ type: 'text', x: tp[0], y: tp[1], style: { text: seqLabels[s], fontSize: 15, fontWeight: 'bold', fontFamily: FONT, fill: '#111', align: 'center', verticalAlign: 'middle' } });
    const py = g[1] + g[3] * 0.42;
    G.push({ type: 'text', x: g[0] - 43, y: py, rotation: Math.PI / 2, style: { text: 'P', fontSize: 20, fontWeight: 'bold', fontStyle: 'italic', fontFamily: FONT, fill: '#111', align: 'center', verticalAlign: 'middle' } });
    G.push({ type: 'text', x: g[0] - 36, y: py - 17, rotation: Math.PI / 2, style: { text: 'iC>T', fontSize: 10.5, fontWeight: 'bold', fontStyle: 'italic', fontFamily: FONT, fill: '#111', align: 'center', verticalAlign: 'middle' } });
  });
});

const chart = echarts.init(document.getElementById('c'), null, { renderer: 'canvas' });
chart.setOption(option);
</script>
</body></html>
